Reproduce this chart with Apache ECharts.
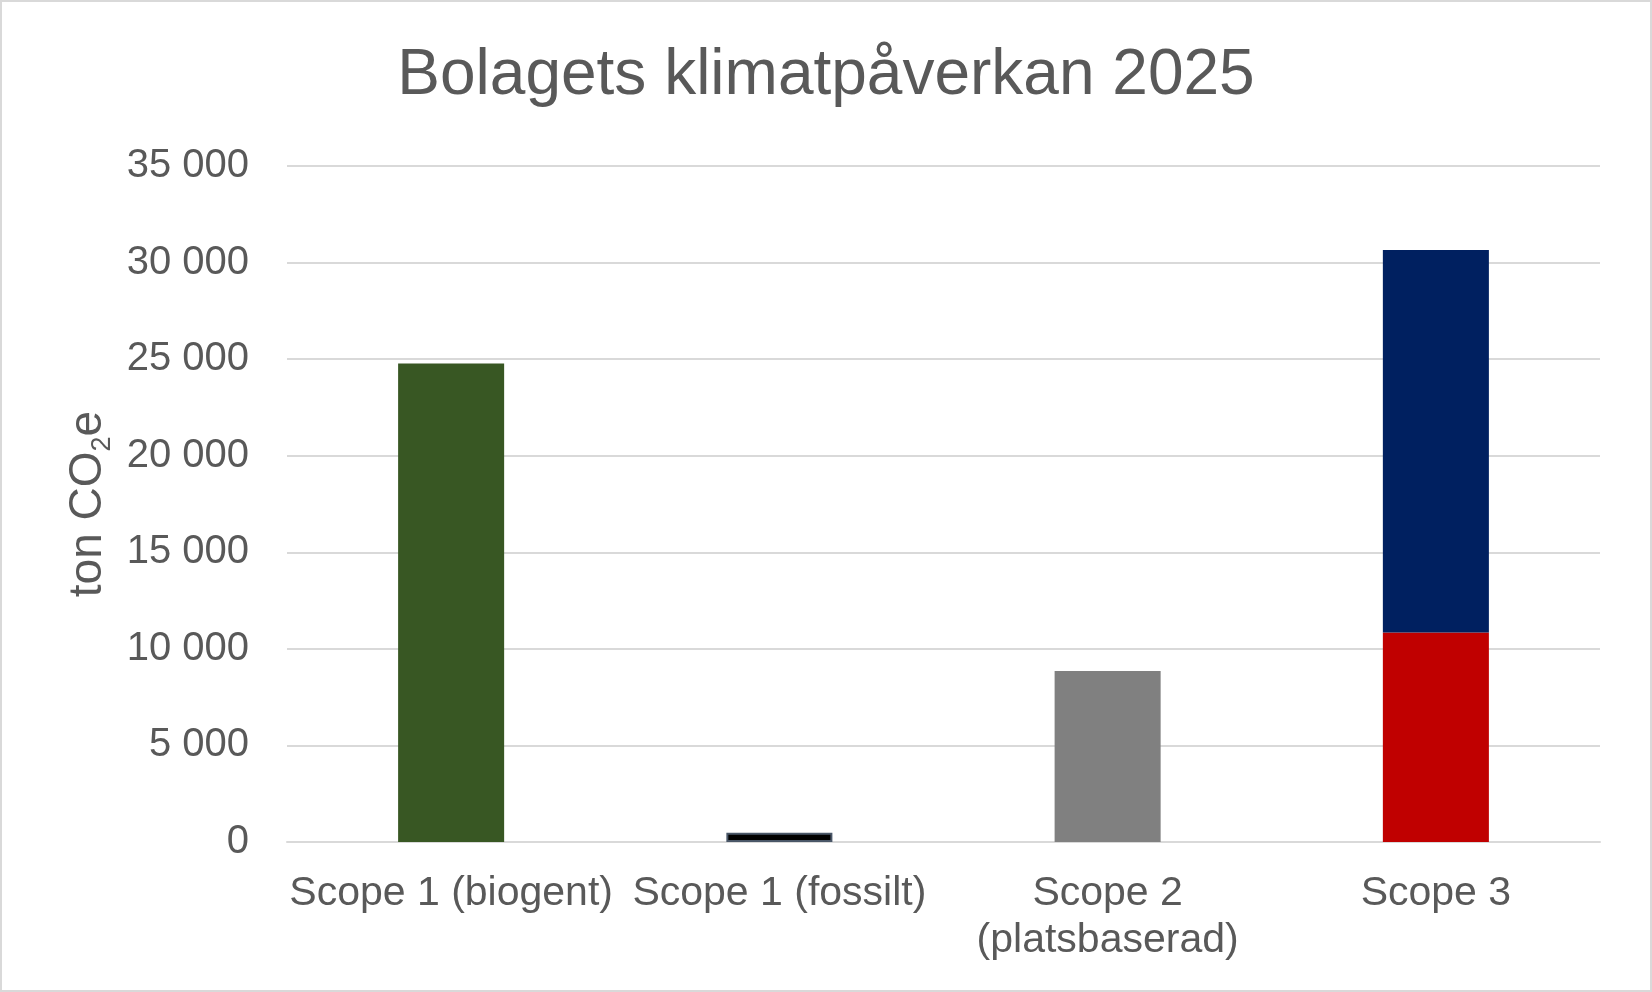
<!DOCTYPE html>
<html>
<head>
<meta charset="utf-8">
<script src="https://cdn.jsdelivr.net/npm/echarts@6/dist/echarts.min.js"></script>
<style>
html,body{margin:0;padding:0;background:#fff;}
#wrap{position:absolute;left:0;top:0;width:1652px;height:992px;box-sizing:border-box;border:2px solid #D9D9D9;background:#fff;}
#chart{width:100%;height:100%;}
</style>
</head>
<body>
<div id="wrap"><div id="chart"></div></div>
<script>
const titleText = 'Bolagets klimatpåverkan 2025';
const categories = ['Scope 1 (biogent)', 'Scope 1 (fossilt)', 'Scope 2\n(platsbaserad)', 'Scope 3'];
const baseValues = [24770, 480, 8860, 10850];
const scope3Upper = ['-', '-', '-', 19800];
const yTicks = [0, 5000, 10000, 15000, 20000, 25000, 30000, 35000];

const baseColors = ['#385723', '#000000', '#808080', '#C00000'];
const baseBorders = ['#385723', '#4A5768', '#808080', '#C00000'];
const upperColor = '#002060';
const textColor = '#595959';
const font = 'Arial, "Liberation Sans", sans-serif';

const chart = echarts.init(document.getElementById('chart'), null, {renderer: 'canvas'});
chart.setOption({
  animation: false,
  backgroundColor: '#fff',
  title: {
    text: titleText,
    left: 'center',
    top: 37,
    textStyle: {color: textColor, fontSize: 64, fontWeight: 'normal', fontFamily: font}
  },
  grid: {left: 285, right: 50, top: 164, bottom: 148, containLabel: false},
  xAxis: {
    type: 'category',
    data: categories,
    axisLine: {show: true, lineStyle: {color: '#D9D9D9', width: 2}},
    axisTick: {show: false},
    axisLabel: {interval: 0, color: textColor, fontSize: 41, lineHeight: 47, margin: 28, fontFamily: font}
  },
  yAxis: {
    type: 'value',
    min: yTicks[0],
    max: yTicks[yTicks.length - 1],
    interval: yTicks[1] - yTicks[0],
    axisLine: {show: false},
    axisTick: {show: false},
    splitLine: {lineStyle: {color: '#D9D9D9', width: 2}},
    axisLabel: {
      color: textColor, fontSize: 40, margin: 38, fontFamily: font,
      formatter: v => String(v).replace(/\B(?=(\d{3})+(?!\d))/g, ' ')
    },
    name: '{a|ton CO}{b|2}{a|e}',
    nameLocation: 'middle',
    nameGap: 171,
    nameRotate: 90,
    nameTextStyle: {
      rich: {
        a: {fontSize: 46, color: textColor, fontFamily: font, lineHeight: 54},
        b: {fontSize: 27, color: textColor, fontFamily: font, lineHeight: 34, verticalAlign: 'bottom'}
      }
    }
  },
  series: [
    {
      type: 'bar',
      stack: 'total',
      barWidth: '32.3%',
      data: baseValues.map((v, i) => ({
        value: v,
        itemStyle: {color: baseColors[i], borderColor: baseBorders[i], borderWidth: i === 1 ? 2 : 0}
      }))
    },
    {
      type: 'bar',
      stack: 'total',
      barWidth: '32.3%',
      itemStyle: {color: upperColor},
      data: scope3Upper
    }
  ]
});
</script>
</body>
</html>
